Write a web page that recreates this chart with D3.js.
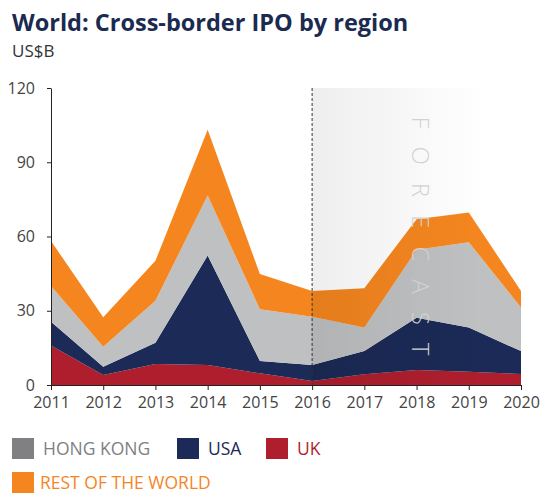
<!DOCTYPE html>
<html>
<head>
<meta charset="utf-8">
<script src="https://cdn.jsdelivr.net/npm/d3@7"></script>
<style>
  body { margin: 0; background: #fff; }
  svg { font-family: "Open Sans", "Noto Sans", sans-serif; }
</style>
</head>
<body>
<div id="chart"></div>
<script>
// chart data (US$B)
const years = [2011, 2012, 2013, 2014, 2015, 2016, 2017, 2018, 2019, 2020];
const uk = [16, 4, 8.5, 8.1, 4.7, 1.6, 4.3, 6.1, 5.4, 4.4];
const usa = [9.6, 3.4, 8.6, 44.2, 5, 6.5, 9.4, 21.1, 17.8, 9.3];
const hongKong = [14.4, 8.1, 16.9, 24.3, 20.9, 19.5, 9.5, 27.4, 34.5, 17.6];
const restOfWorld = [18.2, 11.9, 16.2, 26.5, 14.2, 10.4, 15.9, 12.4, 12, 6.7];
const yTicks = [0, 30, 60, 90, 120];
const forecastFrom = 2016;

const width = 550, height = 503;
const margin = {top: 88, right: 29, bottom: 118, left: 51};

const svg = d3.select("#chart").append("svg")
    .attr("width", width)
    .attr("height", height);

svg.append("text")
    .attr("x", 12).attr("y", 31)
    .attr("font-size", 23.5).attr("font-weight", "bold")
    .attr("fill", "#1b2a50")
    .text("World: Cross-border IPO by region");
svg.append("text")
    .attr("x", 12).attr("y", 57)
    .attr("font-size", 17).attr("fill", "#333")
    .text("US$B");

const x = d3.scaleLinear().domain([2011, 2020]).range([margin.left, width - margin.right]);
const y = d3.scaleLinear().domain([0, 120]).range([height - margin.bottom, margin.top]);

const keys = ["uk", "usa", "hk", "row"];
const colors = {uk: "#ae1e2d", usa: "#1b2a56", hk: "#bfc0c2", row: "#f5861f"};
const table = years.map((yr, i) => ({year: yr, uk: uk[i], usa: usa[i], hk: hongKong[i], row: restOfWorld[i]}));
const stacked = d3.stack().keys(keys)(table);

const area = d3.area()
    .x(d => x(d.data.year))
    .y0(d => y(d[0]))
    .y1(d => y(d[1]));

// forecast background
const defs = svg.append("defs");
const bg = defs.append("linearGradient").attr("id", "fcBg");
bg.append("stop").attr("offset", "0%").attr("stop-color", "#eeeeee");
bg.append("stop").attr("offset", "100%").attr("stop-color", "#ffffff");
const ov = defs.append("linearGradient").attr("id", "fcOv");
ov.append("stop").attr("offset", "0%").attr("stop-color", "#000").attr("stop-opacity", 0.07);
ov.append("stop").attr("offset", "100%").attr("stop-color", "#000").attr("stop-opacity", 0);

// clip the shading to the stacked shape only
defs.append("clipPath").attr("id", "stackClip")
    .append("path")
    .attr("d", area(stacked[stacked.length - 1].map(d => Object.assign([0, d[1]], {data: d.data}))));

const fcX = x(forecastFrom);
const fcW = x(2019.3) - fcX;
svg.append("rect")
    .attr("x", fcX).attr("y", y(120))
    .attr("width", fcW).attr("height", y(0) - y(120))
    .attr("fill", "url(#fcBg)");

svg.append("g").selectAll("path")
    .data(stacked)
    .join("path")
    .attr("d", area)
    .attr("fill", d => colors[d.key]);

svg.append("rect")
    .attr("x", fcX).attr("y", y(120))
    .attr("width", fcW).attr("height", y(0) - y(120))
    .attr("clip-path", "url(#stackClip)")
    .attr("fill", "url(#fcOv)");

svg.append("text")
    .attr("transform", `translate(${x(2018.08)},${y(108.5)}) rotate(90)`)
    .attr("font-size", 24).attr("font-weight", 300)
    .attr("letter-spacing", 18)
    .attr("fill", "#d2d2d2")
    .attr("dy", "0.35em")
    .text("FORECAST");

svg.append("line")
    .attr("x1", fcX).attr("x2", fcX)
    .attr("y1", y(120)).attr("y2", y(0))
    .attr("stroke", "#333").attr("stroke-width", 1)
    .attr("stroke-dasharray", "3,2");

// axes
const yAxis = svg.append("g")
    .attr("transform", `translate(${margin.left},0)`)
    .call(d3.axisLeft(y).tickValues(yTicks).tickSize(4).tickSizeOuter(0));
const xAxis = svg.append("g")
    .attr("transform", `translate(0,${y(0)})`)
    .call(d3.axisBottom(x).tickValues(years).tickFormat(d3.format("d")).tickSize(5).tickSizeOuter(0));

[yAxis, xAxis].forEach(g => {
    g.select(".domain").attr("stroke", "#222");
    g.selectAll(".tick line").attr("stroke", "#222");
    g.selectAll("text").attr("font-size", 16).attr("fill", "#444")
        .attr("font-family", "'Open Sans', sans-serif");
});
yAxis.selectAll("text").attr("x", -16);
xAxis.selectAll("text").attr("y", 12);

// legend
const legend = [
    {label: "HONG KONG", sw: "#808083", tc: "#808083", x: 12, y: 438},
    {label: "USA", sw: "#1b2a56", tc: "#1b2a56", x: 177, y: 438},
    {label: "UK", sw: "#ae1e2d", tc: "#ae1e2d", x: 266, y: 438},
    {label: "REST OF THE WORLD", sw: "#f5861f", tc: "#f5861f", x: 12, y: 472}
];
const lg = svg.append("g").selectAll("g").data(legend).join("g")
    .attr("transform", d => `translate(${d.x},${d.y})`);
lg.append("rect").attr("width", 22).attr("height", 21).attr("fill", d => d.sw);
lg.append("text")
    .attr("x", d => d.y > 450 ? 28 : 31).attr("y", 11).attr("dy", "0.36em")
    .attr("font-size", 17.5).attr("fill", d => d.tc)
    .text(d => d.label);
</script>
</body>
</html>
